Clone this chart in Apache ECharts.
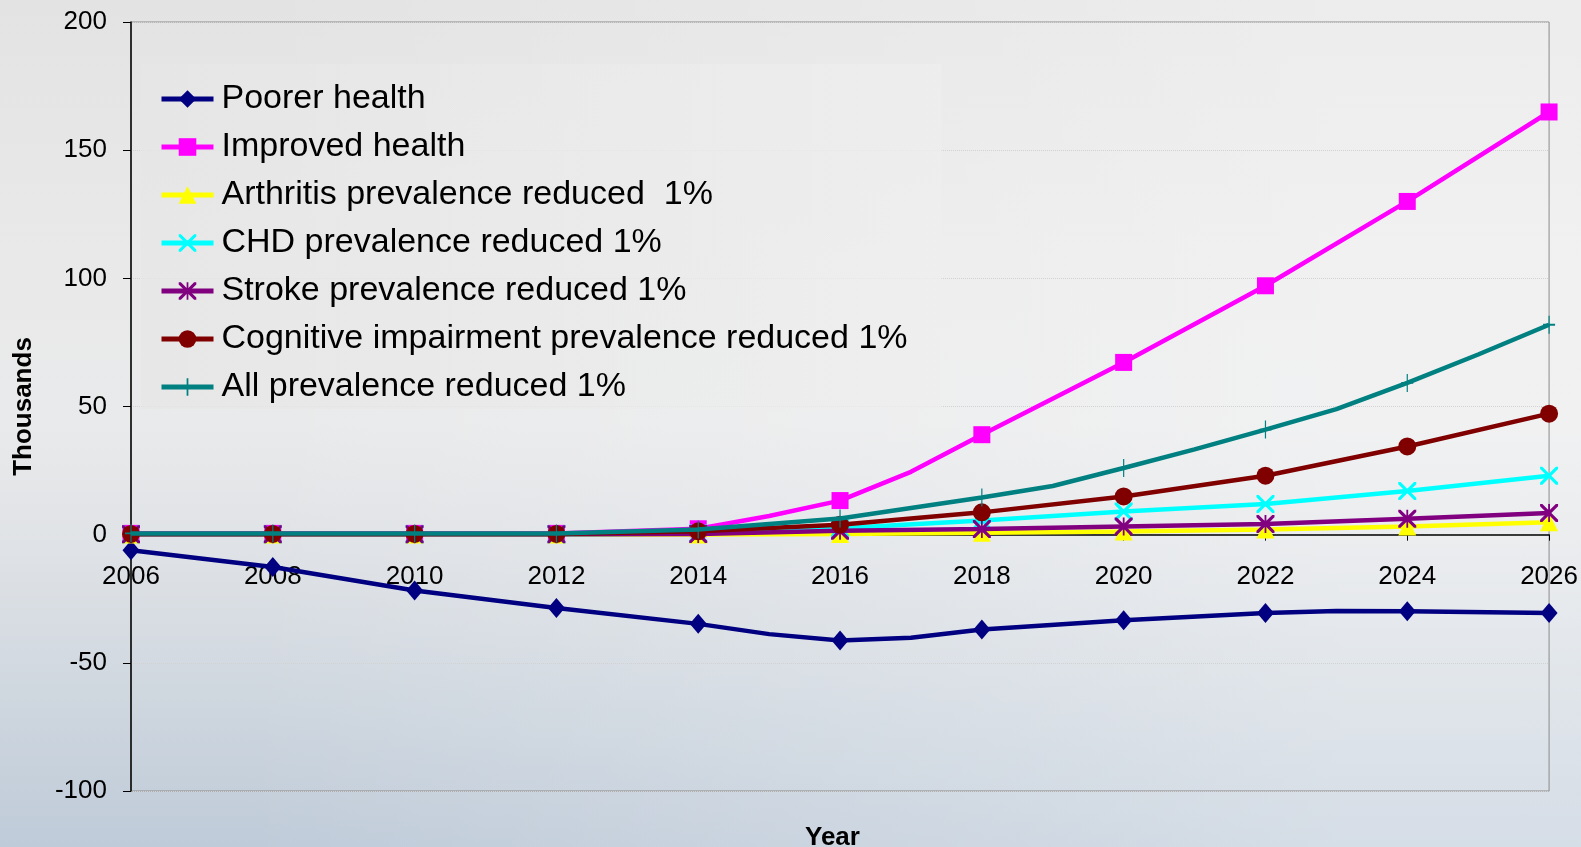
<!DOCTYPE html>
<html>
<head>
<meta charset="utf-8">
<script src="https://cdn.jsdelivr.net/npm/echarts@6/dist/echarts.min.js"></script>
<style>
  html, body { margin: 0; padding: 0; }
  #chart {
    width: 1581px; height: 847px;
    background:
      linear-gradient(90deg, rgba(255,255,255,0) 15%, rgba(255,255,255,0.35) 85%),
      linear-gradient(180deg, #e3e3e3 0%, #e9e9e9 30%, #e9eaeb 50%, #dfe2e6 65%, #cfd7df 82%, #bfcbd9 100%);
  }
</style>
</head>
<body>
<div id="chart"></div>
<script>
// ---- data (values in thousands; null = no line vertex in that year) ----
const years = [2006, 2007, 2008, 2009, 2010, 2011, 2012, 2013, 2014, 2015, 2016, 2017, 2018, 2019, 2020, 2021, 2022, 2023, 2024, 2025, 2026];
const seriesNames = [
  'Poorer health',
  'Improved health',
  'Arthritis prevalence reduced  1%',
  'CHD prevalence reduced 1%',
  'Stroke prevalence reduced 1%',
  'Cognitive impairment prevalence reduced 1%',
  'All prevalence reduced 1%'
];
const poorerHealth = [-6.1, null, -12.6, null, -21.8, null, -28.6, null, -34.8, -38.8, -41.3, -40.2, -37.0, null, -33.4, null, -30.6, -29.8, -29.9, null, -30.6];
const improvedHealth = [0.5, null, 0.5, null, 0.5, null, 0.5, null, 2.3, 7.3, 13.3, 24.5, 39.0, null, 67.2, null, 97.1, null, 130.0, null, 164.9];
const arthritis = [0.1, null, 0.1, null, 0.1, null, 0.1, null, 0.1, null, 0.3, null, 0.7, null, 1.2, null, 2.0, null, 3.2, null, 4.8];
const chd = [0.2, null, 0.2, null, 0.2, null, 0.2, null, 0.5, null, 2.5, null, 5.5, null, 9.0, null, 12.0, null, 17.0, null, 23.0];
const stroke = [0.2, null, 0.2, null, 0.2, null, 0.2, null, 0.3, null, 1.5, null, 2.2, null, 3.2, null, 4.2, null, 6.2, null, 8.5];
const cognitive = [0.3, null, 0.3, null, 0.3, null, 0.3, null, 1.3, null, 3.9, null, 8.7, null, 14.9, null, 23.0, null, 34.4, null, 47.2];
const allReduced = [0.5, null, 0.5, null, 0.5, null, 0.5, null, 2.0, null, 6.3, null, 14.5, 19.0, 26.0, 33.3, 41.0, 49.0, 59.2, 70.3, 81.9];
const yTicks = { min: -100, max: 200, step: 50 };
const xTicks = { min: 2006, max: 2026, step: 2 };

// ---- styling ----
const FONT = "'Liberation Sans', Arial, sans-serif";
const colors = ['#000080', '#ff00ff', '#ffff00', '#00ffff', '#800080', '#800000', '#008080'];
const X_PATH = 'path://M0,0L2.5,0L10,7.5L17.5,0L20,0L20,2.5L12.5,10L20,17.5L20,20L17.5,20L10,12.5L2.5,20L0,20L0,17.5L7.5,10L0,2.5Z';
const STAR_PATH = 'path://M0,0L2.5,0L9,6.5L9,0L11,0L11,6.5L17.5,0L20,0L20,2.5L12.5,10L20,17.5L20,20L17.5,20L11,13.5L11,20L9,20L9,13.5L2.5,20L0,20L0,17.5L7.5,10L0,2.5Z';
const PLUS_PATH = 'path://M9,0L11,0L11,9L20,9L20,11L11,11L11,20L9,20L9,11L0,11L0,9L9,9Z';
const symbols = ['diamond', 'rect', 'triangle', X_PATH, STAR_PATH, 'circle', PLUS_PATH];
const sizes = [[17, 20], 17, 18, 18, 18, 18, [12, 18]];
const valueSets = [poorerHealth, improvedHealth, arthritis, chd, stroke, cognitive, allReduced];

function toPairs(vals) {
  return years.map((y, i) => [y, vals[i]]).filter(d => d[1] !== null);
}

const series = seriesNames.map((name, k) => ({
  name: name,
  type: 'line',
  data: toPairs(valueSets[k]),
  symbol: symbols[k],
  symbolSize: (val) => (val[0] % 2 === 0 ? sizes[k] : 0),
  showSymbol: true,
  showAllSymbol: true,
  lineStyle: { color: colors[k], width: 4.5 },
  itemStyle: { color: colors[k], borderWidth: 0 },
  emphasis: { disabled: true },
  z: 2 + k
}));

const chart = echarts.init(document.getElementById('chart'), null, { renderer: 'canvas' });
chart.setOption({
  animation: false,
  backgroundColor: 'transparent',
  textStyle: { fontFamily: FONT },
  grid: {
    left: 131, right: 31, top: 22, bottom: 56,
    show: true, borderColor: '#8a8a8a', borderWidth: 1, backgroundColor: 'transparent'
  },
  legend: {
    orient: 'vertical',
    left: 141, top: 64,
    padding: [18, 34, 5, 18],
    backgroundColor: new echarts.graphic.LinearGradient(0, 0, 1, 0, [
      { offset: 0, color: 'rgba(230,230,230,0.8)' },
      { offset: 1, color: 'rgba(238,238,238,0.8)' }
    ]),
    itemWidth: 52, itemHeight: 22, itemGap: 14,
    data: seriesNames,
    lineStyle: { width: 5 },
    textStyle: { fontFamily: FONT, fontSize: 34, color: '#000', lineHeight: 34, padding: [0, 0, 0, 3] },
    selectedMode: false
  },
  xAxis: {
    type: 'value',
    min: xTicks.min, max: xTicks.max, interval: xTicks.step,
    axisLine: { onZero: false, lineStyle: { color: '#000', width: 1.5 } },
    axisTick: { show: true, length: 6, lineStyle: { color: '#000' } },
    axisLabel: {
      fontFamily: FONT, fontSize: 26, color: '#000', margin: 29,
      formatter: (v) => String(v)
    },
    splitLine: { show: false }
  },
  yAxis: {
    type: 'value',
    min: yTicks.min, max: yTicks.max, interval: yTicks.step,
    name: 'Thousands',
    nameLocation: 'middle',
    nameRotate: 90,
    nameGap: 94,
    nameTextStyle: { fontFamily: FONT, fontSize: 26, fontWeight: 'bold', color: '#000' },
    axisLine: { show: true, lineStyle: { color: '#000', width: 1.5 } },
    axisTick: { show: true, length: 8, inside: false, lineStyle: { color: '#000' } },
    axisLabel: { fontFamily: FONT, fontSize: 26, color: '#000', margin: 24 },
    splitLine: { show: true, lineStyle: { color: '#d2d2d2', type: 'dotted', width: 1 } }
  },
  graphic: [{
    type: 'text',
    left: 805, top: 825,
    style: { text: 'Year', fontFamily: FONT, fontSize: 26, fontWeight: 'bold', fill: '#000' }
  }],
  series: series
});

// Move the x axis (line, ticks, labels) up to the y = 0 position computed by the y scale.
const zeroY = chart.convertToPixel({ yAxisIndex: 0 }, 0);
const bottomY = chart.convertToPixel({ yAxisIndex: 0 }, yTicks.min);
chart.setOption({ xAxis: { offset: -(bottomY - zeroY) } });
</script>
</body>
</html>
